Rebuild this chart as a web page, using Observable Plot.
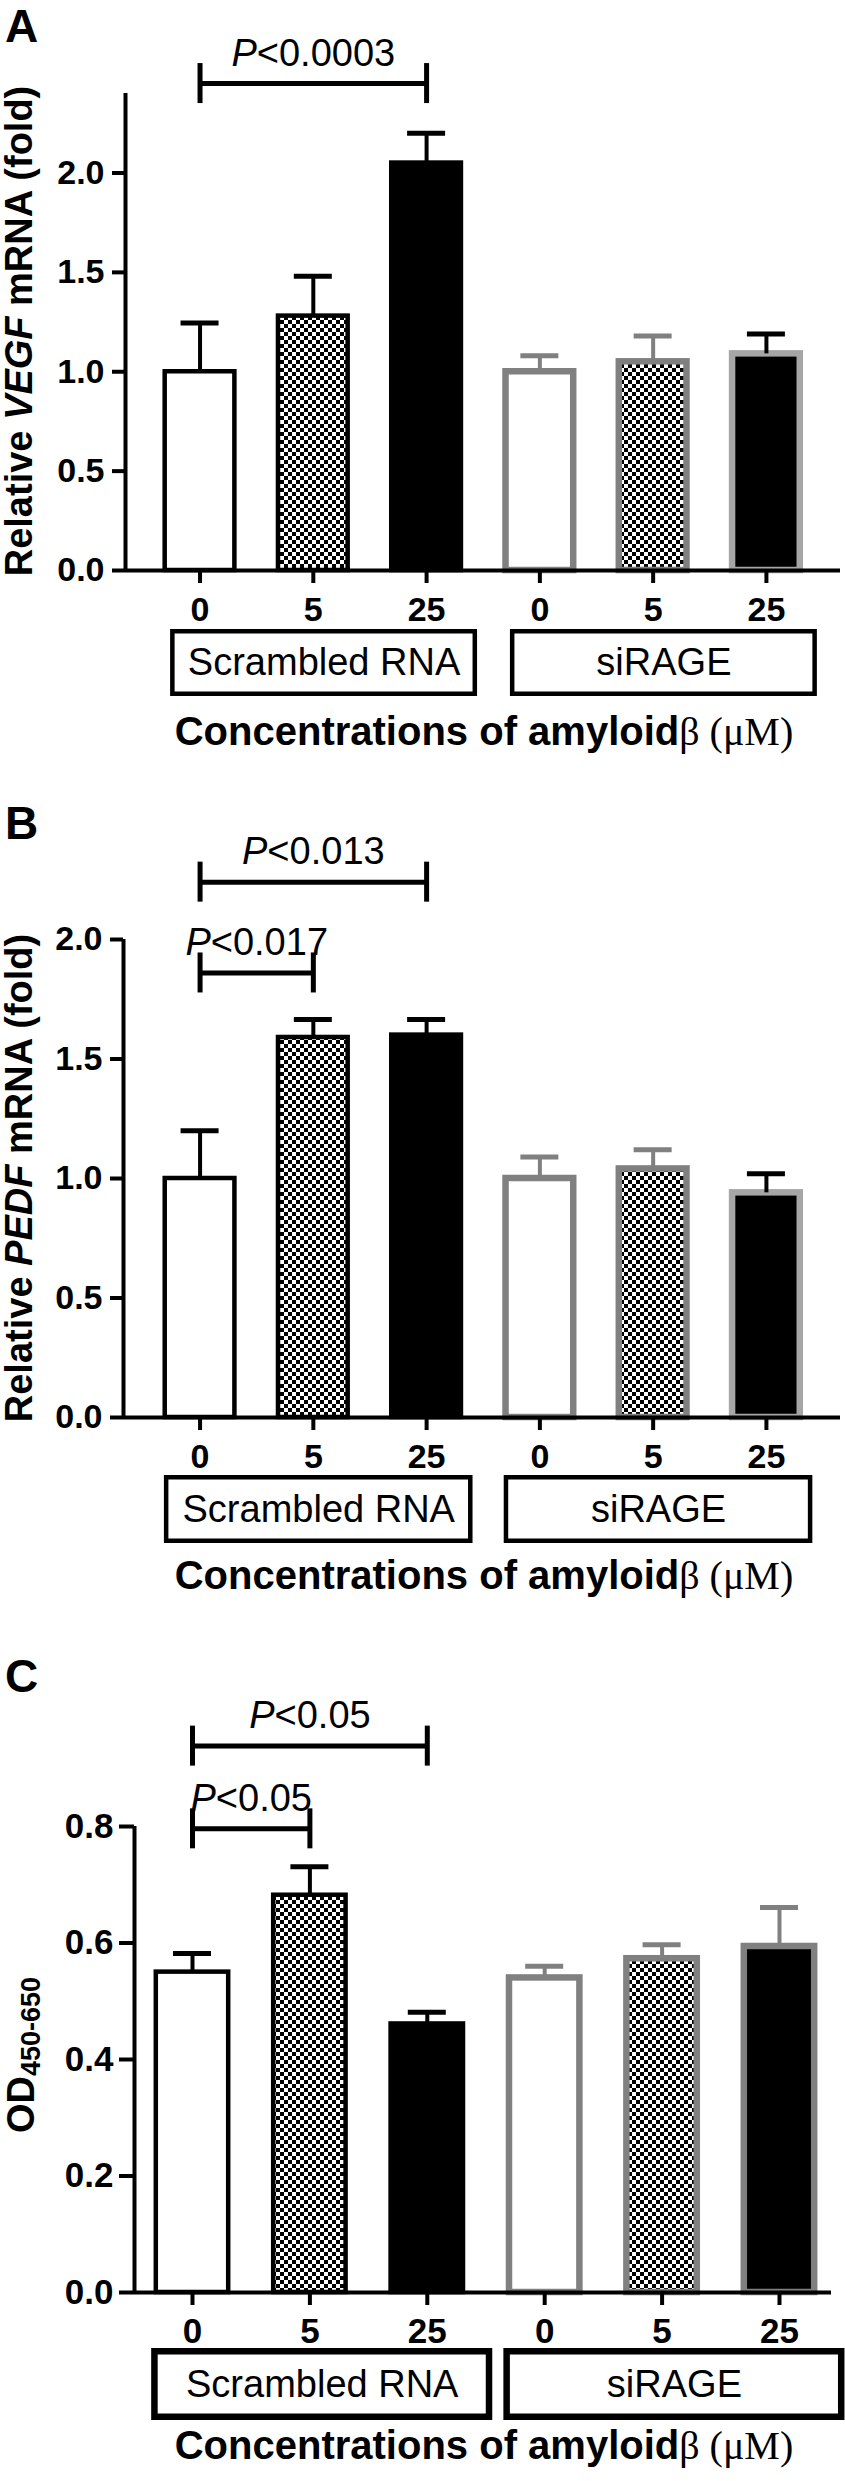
<!DOCTYPE html>
<html>
<head>
<meta charset="utf-8">
<script src="https://cdn.jsdelivr.net/npm/d3@7"></script>
<script src="https://cdn.jsdelivr.net/npm/@observablehq/plot@0.6"></script>
<style>
  html, body { margin: 0; padding: 0; background: #fff; overflow: hidden; }
  #root { position: relative; width: 845px; height: 2481px; font-family: "Liberation Sans", Arial, sans-serif; }
  #root > svg { position: absolute; left: 0; overflow: visible; }
  #overlay text { white-space: pre; }
</style>
</head>
<body>
<svg width="0" height="0" style="position:absolute">
  <defs>
    <pattern id="checker" width="8" height="8" patternUnits="userSpaceOnUse">
      <rect width="8" height="8" fill="#fff"></rect>
      <rect width="4" height="4" fill="#000"></rect>
      <rect x="4" y="4" width="4" height="4" fill="#000"></rect>
    </pattern>
  </defs>
</svg>
<div id="root"></div>
<script>
// ---------------- data ----------------
const concentrations = ["0", "5", "25", "0", "5", "25"];
const groupLabels = ["Scrambled RNA", "siRAGE"];
const groupOfBar = [0, 0, 0, 1, 1, 1];

const vegfMean = [1.00, 1.28, 2.05, 1.00, 1.05, 1.09];
const vegfSem  = [0.245, 0.20, 0.15, 0.08, 0.13, 0.10];
const pedfMean = [1.00, 1.59, 1.60, 1.00, 1.04, 0.94];
const pedfSem  = [0.20, 0.075, 0.065, 0.09, 0.08, 0.08];
const odMean   = [0.55, 0.682, 0.461, 0.540, 0.573, 0.594];
const odSem    = [0.032, 0.049, 0.020, 0.020, 0.024, 0.067];

const vegfTicks = [0, 0.5, 1.0, 1.5, 2.0];
const pedfTicks = [0, 0.5, 1.0, 1.5, 2.0];
const odTicks   = [0, 0.2, 0.4, 0.6, 0.8];

const vegfComparisons = [{from: 0, to: 2, label: "P<0.0003", y: 2.45}];
const pedfComparisons = [{from: 0, to: 2, label: "P<0.013", y: 2.24}, {from: 0, to: 1, label: "P<0.017", y: 1.86}];
const odComparisons   = [{from: 0, to: 2, label: "P<0.05", y: 0.938}, {from: 0, to: 1, label: "P<0.05", y: 0.796}];

const xTitle = [["Concentrations of amyloid", "sans"], ["\u03B2 (\u03BCM)", "serif"]];

// ---------------- layout / style ----------------
const FONT = '"Liberation Sans", Arial, Helvetica, sans-serif';
const W = 845;
const GREY = "#808080";

const panels = [
  {letter: "A", mean: vegfMean, sem: vegfSem, ticks: vegfTicks, yMax: 2.4, comps: vegfComparisons,
   yTitle: [["Relative ", null], ["VEGF", "italic"], [" mRNA (fold)", null]],
   top: 0, height: 630, mT: 93, mB: 60, mL: 125, mR: 5, xDomain: [-0.658, 5.654],
   tickSize: 13, yTickPad: 8, tickFont: 34,
   boxTop: 625, boxH: 75, boxSW: 4.5, padL: 0.24, padR: 0.43,
   letterY: 42, titleX: 32, titleY: 331, xTitleY: 745, bar6Stroke: "#a6a6a6", bar6Err: "#000"},
  {letter: "B", mean: pedfMean, sem: pedfSem, ticks: pedfTicks, yMax: 2.0, comps: pedfComparisons,
   yTitle: [["Relative ", null], ["PEDF", "italic"], [" mRNA (fold)", null]],
   top: 800, height: 670, mT: 139, mB: 53, mL: 123, mR: 5, xDomain: [-0.676, 5.654],
   tickSize: 13, yTickPad: 8, tickFont: 34,
   boxTop: 1471, boxH: 76, boxSW: 4.5, padL: 0.295, padR: 0.39,
   letterY: 839, titleX: 32, titleY: 1178, xTitleY: 1589, bar6Stroke: "#a6a6a6", bar6Err: "#000"},
  {letter: "C", mean: odMean, sem: odSem, ticks: odTicks, yMax: 0.8, comps: odComparisons,
   yTitle: null,
   top: 1640, height: 700, mT: 186, mB: 48, mL: 134, mR: 14, xDomain: [-0.494, 5.443],
   tickSize: 15, yTickPad: 6, tickFont: 35,
   boxTop: 2344, boxH: 80, boxSW: 6.5, padL: 0.32, padR: 0.53,
   letterY: 1692, titleX: 34, titleY: 2055, xTitleY: 2459, bar6Stroke: GREY, bar6Err: GREY}
];

const BAR_FRACTION = 0.655;   // outer bar width as a fraction of the category step

function barStyle(d, p) {
  const fill = concentrations[d.i] === "0" ? "#ffffff" : concentrations[d.i] === "5" ? "url(#checker)" : "#000000";
  if (d.g === 0) return {fill, stroke: "#000", sw: 4.5, err: "#000"};
  const last = concentrations[d.i] === "25";
  return {fill, stroke: last ? p.bar6Stroke : GREY, sw: 6.5, err: last ? p.bar6Err : GREY};
}

const root = document.getElementById("root");

function mainPlot(p) {
  const rows = concentrations.map((c, i) => ({i, c, g: groupOfBar[i], mean: p.mean[i], sem: p.sem[i]}));
  const pxPerX = (W - p.mL - p.mR) / (p.xDomain[1] - p.xDomain[0]);
  const pxPerY = (p.height - p.mT - p.mB) / p.yMax;
  const capHalfX = 19 / pxPerX;
  const bracketCap = 20 / pxPerY;
  const marks = [];
  for (const d of rows) {
    const s = barStyle(d, p);
    const half = (BAR_FRACTION * pxPerX - s.sw) / 2 / pxPerX;
    marks.push(Plot.rect([d], {x1: r => r.i - half, x2: r => r.i + half, y1: 0, y2: "mean",
      fill: s.fill, stroke: s.stroke, strokeWidth: s.sw}));
  }
  for (const d of rows) {
    const s = barStyle(d, p);
    marks.push(Plot.ruleX([d], {x: "i", y1: "mean", y2: r => r.mean + r.sem, stroke: s.err, strokeWidth: 4}));
    marks.push(Plot.ruleY([d], {y: r => r.mean + r.sem, x1: r => r.i - capHalfX, x2: r => r.i + capHalfX,
      stroke: s.err, strokeWidth: 5}));
  }
  // axis lines
  marks.push(Plot.ruleX([p.xDomain[0]], {stroke: "#000", strokeWidth: 4}));
  marks.push(Plot.ruleY([0], {stroke: "#000", strokeWidth: 4}));
  marks.push(Plot.axisY({ticks: p.ticks, tickFormat: d3.format(".1f"), tickSize: p.tickSize, tickPadding: p.yTickPad,
    strokeWidth: 4, fontSize: p.tickFont, fontWeight: "bold", label: null}));
  marks.push(Plot.axisX({ticks: concentrations.map((c, i) => i), tickFormat: i => concentrations[i],
    tickSize: 13, tickPadding: 13, strokeWidth: 4, fontSize: p.tickFont, fontWeight: "bold", label: null}));
  // significance brackets
  const caps = p.comps.flatMap(c => [{x: c.from, y: c.y}, {x: c.to, y: c.y}]);
  marks.push(Plot.ruleY(p.comps, {y: "y", x1: "from", x2: "to", stroke: "#000", strokeWidth: 5}));
  marks.push(Plot.ruleX(caps, {x: "x", y1: d => d.y - bracketCap, y2: d => d.y + bracketCap, stroke: "#000", strokeWidth: 5}));
  marks.push(Plot.text(p.comps, {x: d => (d.from + d.to) / 2, y: "y", text: "label", dy: -18, lineAnchor: "bottom",
    fontSize: 38, fontWeight: "normal", fill: "#000"}));

  const svg = Plot.plot({
    width: W, height: p.height,
    marginTop: p.mT, marginBottom: p.mB, marginLeft: p.mL, marginRight: p.mR,
    x: {domain: p.xDomain}, y: {domain: [0, p.yMax]},
    style: {background: "transparent", overflow: "visible", fontFamily: FONT, fontSize: "34px", fontWeight: "bold", color: "#000"},
    marks
  });
  // italic P in p-value labels
  svg.querySelectorAll("text").forEach(t => {
    const s = t.textContent;
    if (s.startsWith("P<")) {
      t.textContent = "";
      const ns = "http://www.w3.org/2000/svg";
      const a = document.createElementNS(ns, "tspan"); a.setAttribute("font-style", "italic"); a.textContent = "P";
      const b = document.createElementNS(ns, "tspan"); b.textContent = s.slice(1);
      t.appendChild(a); t.appendChild(b);
    }
  });
  svg.style.top = p.top + "px";
  root.appendChild(svg);
}

function boxPlot(p) {
  const groupRows = groupLabels.map((label, g) => {
    const idx = groupOfBar.map((v, i) => v === g ? i : null).filter(v => v !== null);
    return {label, first: d3.min(idx), last: d3.max(idx)};
  });
  const m = 4 + p.boxSW / 2;
  const svg = Plot.plot({
    width: W, height: p.boxH, marginTop: m, marginBottom: m, marginLeft: p.mL, marginRight: p.mR,
    x: {domain: p.xDomain, axis: null}, y: {domain: [0, 1], axis: null},
    style: {background: "transparent", overflow: "visible", fontFamily: FONT, color: "#000"},
    marks: [
      Plot.rect(groupRows, {x1: d => d.first - p.padL, x2: d => d.last + p.padR, y1: 0, y2: 1,
        fill: "#fff", stroke: "#000", strokeWidth: p.boxSW}),
      Plot.text(groupRows, {x: d => (d.first - p.padL + d.last + p.padR) / 2, y: 0.5, text: "label",
        fontSize: 38, fontWeight: "normal", lineAnchor: "middle", fill: "#000"})
    ]
  });
  svg.style.top = p.boxTop + "px";
  root.appendChild(svg);
}

panels.forEach(p => { mainPlot(p); boxPlot(p); });

// overlay: panel letters, axis titles
const overlay = d3.select(root).append("svg").attr("id", "overlay")
  .attr("width", W).attr("height", 2481).style("top", "0px")
  .attr("font-family", FONT).attr("fill", "#000");

panels.forEach(p => {
  overlay.append("text").attr("x", 5).attr("y", p.letterY)
    .attr("font-size", 46).attr("font-weight", "bold").text(p.letter);

  const t = overlay.append("text")
    .attr("transform", `translate(${p.titleX},${p.titleY}) rotate(-90)`)
    .attr("text-anchor", "middle").attr("font-weight", "bold").attr("font-size", 38);
  if (p.yTitle) {
    p.yTitle.forEach(([s, st]) => t.append("tspan").attr("font-style", st).text(s));
  } else {
    t.append("tspan").text("OD");
    t.append("tspan").attr("font-size", 27).attr("dy", 6).text("450-650");
  }

  const x = overlay.append("text").attr("x", 484).attr("y", p.xTitleY)
    .attr("text-anchor", "middle").attr("font-size", 40);
  xTitle.forEach(([s, kind]) => {
    const ts = x.append("tspan").text(s);
    if (kind === "serif") ts.attr("font-family", '"Liberation Serif", "DejaVu Serif", serif').attr("font-weight", "normal");
    else ts.attr("font-weight", "bold");
  });
});
</script>
</body>
</html>
